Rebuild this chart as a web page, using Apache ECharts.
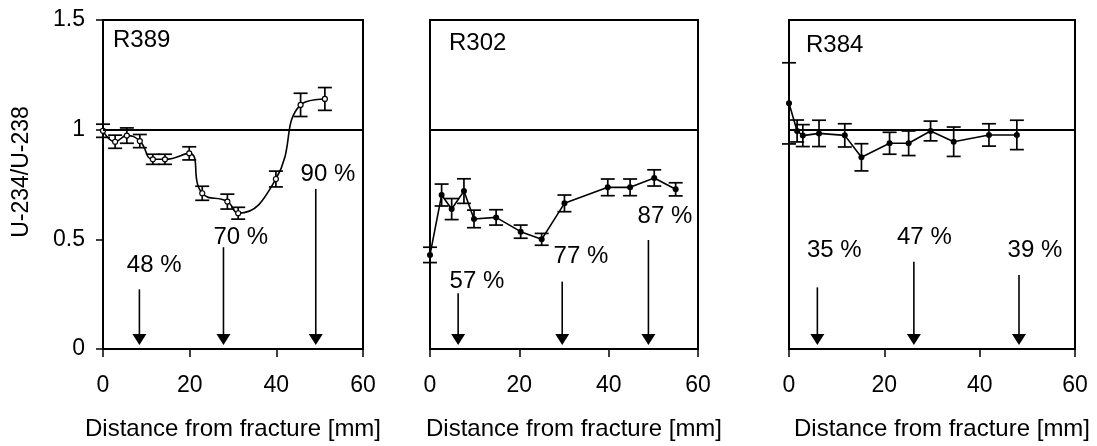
<!DOCTYPE html>
<html>
<head>
<meta charset="utf-8">
<script src="https://cdn.jsdelivr.net/npm/echarts@6/dist/echarts.min.js"></script>
<style>
  html, body { margin: 0; padding: 0; background: #fff; }
  #chart { width: 1097px; height: 446px; }
</style>
</head>
<body>
<div id="chart"></div>
<script>
// ---- Activity ratio profiles, three rock samples ----
const r389X   = [0, 2.8, 5.5, 8.5, 11.5, 14.3, 19.9, 22.9, 28.7, 31.2, 39.9, 45.6, 51.2];
const r389Y   = [0.995, 0.945, 0.973, 0.948, 0.865, 0.865, 0.892, 0.71, 0.672, 0.619, 0.775, 1.113, 1.14];
const r389Err = [0.03, 0.03, 0.035, 0.03, 0.023, 0.023, 0.03, 0.032, 0.034, 0.027, 0.036, 0.053, 0.052];

const r302X   = [0, 2.6, 4.85, 7.6, 9.85, 14.8, 20.3, 25.0, 30.1, 39.8, 44.8, 50.2, 55.0];
const r302Y   = [0.429, 0.702, 0.638, 0.72, 0.593, 0.6, 0.535, 0.5, 0.664, 0.737, 0.737, 0.78, 0.728];
const r302Err = [0.035, 0.05, 0.048, 0.056, 0.04, 0.035, 0.03, 0.027, 0.038, 0.038, 0.038, 0.037, 0.03];

const r384X   = [0, 1.7, 2.9, 6.3, 11.7, 15.2, 21.1, 25.1, 29.7, 34.55, 41.95, 47.8];
const r384Y   = [1.12, 0.994, 0.973, 0.983, 0.974, 0.874, 0.938, 0.938, 0.994, 0.945, 0.976, 0.976];
const r384Err = [0.185, 0.05, 0.05, 0.06, 0.053, 0.062, 0.05, 0.056, 0.045, 0.067, 0.051, 0.067];

// Arrows marking positions with their percentage values
const r389ArrowX   = [8.4, 27.8, 49.1];
const r389ArrowTop = [0.272, 0.464, 0.73];
const r389LabelX   = [11.8, 31.8, 51.9];
const r389LabelY   = [0.383, 0.511, 0.798];
const r389Labels   = ['48 %', '70 %', '90 %'];

const r302ArrowX   = [6.3, 29.6, 48.9];
const r302ArrowTop = [0.254, 0.307, 0.497];
const r302LabelX   = [10.5, 33.8, 52.6];
const r302LabelY   = [0.31, 0.424, 0.606];
const r302Labels   = ['57 %', '77 %', '87 %'];

const r384ArrowX   = [5.95, 26.2, 48.25];
const r384ArrowTop = [0.281, 0.398, 0.337];
const r384LabelX   = [9.5, 28.4, 51.6];
const r384LabelY   = [0.451, 0.511, 0.451];
const r384Labels   = ['35 %', '47 %', '39 %'];

const sampleNames = ['R389', 'R302', 'R384'];
const xTicks = [0, 20, 40, 60];
const yTicks = [0, 0.5, 1, 1.5];
const equilibrium = 1;

const FONT = "'Liberation Sans', Arial, sans-serif";
const FS = 23;
const FS_BIG = 24;

const grids = [
  { left: 103, top: 20, width: 260, height: 329 },
  { left: 430, top: 20, width: 268, height: 329 },
  { left: 789, top: 20, width: 286, height: 329 }
];

function xAxisFor(gi, padLeft) {
  return {
    gridIndex: gi, type: 'value', min: xTicks[0], max: xTicks[xTicks.length - 1], interval: 20,
    axisLine: { show: true, lineStyle: { color: '#000', width: 2 } },
    axisTick: { show: true, inside: false, length: 8, lineStyle: { color: '#000', width: 1.5 } },
    axisLabel: { color: '#000', fontFamily: FONT, fontSize: FS, margin: 25 },
    splitLine: { show: false },
    name: 'Distance from fracture [mm]', nameLocation: 'middle', nameGap: 68,
    nameTextStyle: { color: '#000', fontFamily: FONT, fontSize: FS_BIG, padding: [0, 0, 0, padLeft] }
  };
}

function yAxisFor(gi, showLabels) {
  return {
    gridIndex: gi, type: 'value', min: yTicks[0], max: yTicks[yTicks.length - 1], interval: 0.5,
    axisLine: { show: true, lineStyle: { color: '#000', width: 2 } },
    axisTick: { show: showLabels, inside: false, length: 7, lineStyle: { color: '#000', width: 1.5 } },
    axisLabel: { show: showLabels, color: '#000', fontFamily: FONT, fontSize: FS, margin: 18 },
    splitLine: { show: false }
  };
}

function profileSeries(gi, xs, ys, smooth, hollow) {
  return {
    type: 'line', xAxisIndex: gi, yAxisIndex: gi,
    data: xs.map((x, i) => [x, ys[i]]),
    smooth: smooth,
    symbol: 'circle', symbolSize: hollow ? 5 : 6,
    itemStyle: { color: hollow ? '#fff' : '#000', borderColor: '#000', borderWidth: hollow ? 1.2 : 0 },
    lineStyle: { color: '#000', width: 1.6 },
    z: 4, silent: true, animation: false,
    markLine: {
      silent: true, symbol: 'none', label: { show: false },
      lineStyle: { color: '#000', width: 2, type: 'solid' },
      data: [{ yAxis: equilibrium }]
    }
  };
}

function errorSeries(gi, xs, ys, es) {
  return {
    type: 'custom', xAxisIndex: gi, yAxisIndex: gi, silent: true, z: 3, animation: false,
    data: xs.map((x, i) => [x, ys[i] - es[i], ys[i] + es[i]]),
    encode: { x: 0, y: [1, 2] },
    renderItem(params, api) {
      const x = api.value(0);
      const lo = api.coord([x, api.value(1)]);
      const hi = api.coord([x, api.value(2)]);
      const w = 7;
      const st = { stroke: '#000', lineWidth: 1.7 };
      return {
        type: 'group', children: [
          { type: 'line', shape: { x1: lo[0], y1: lo[1], x2: hi[0], y2: hi[1] }, style: st },
          { type: 'line', shape: { x1: lo[0] - w, y1: lo[1], x2: lo[0] + w, y2: lo[1] }, style: st },
          { type: 'line', shape: { x1: hi[0] - w, y1: hi[1], x2: hi[0] + w, y2: hi[1] }, style: st }
        ]
      };
    }
  };
}

function arrowSeries(gi, ax, atop, lx, ly, labels) {
  return {
    type: 'custom', xAxisIndex: gi, yAxisIndex: gi, silent: true, z: 5, animation: false,
    data: ax.map((x, i) => [x, atop[i], lx[i], ly[i]]),
    encode: { x: 0, y: 1 },
    renderItem(params, api) {
      const i = params.dataIndex;
      const top = api.coord([api.value(0), api.value(1)]);
      const base = api.coord([api.value(0), 0]);
      const lab = api.coord([api.value(2), api.value(3)]);
      const tipY = base[1] - 4, headH = 11, headW = 7;
      return {
        type: 'group', children: [
          { type: 'line', shape: { x1: top[0], y1: top[1], x2: top[0], y2: tipY - headH + 1 },
            style: { stroke: '#000', lineWidth: 1.6 } },
          { type: 'polygon', shape: { points: [[top[0] - headW, tipY - headH], [top[0] + headW, tipY - headH], [top[0], tipY]] },
            style: { fill: '#000' } },
          { type: 'text', x: lab[0], y: lab[1],
            style: { text: labels[i], fill: '#000', font: FS_BIG + 'px ' + FONT, align: 'center', verticalAlign: 'middle' } }
        ]
      };
    }
  };
}

const chart = echarts.init(document.getElementById('chart'), null, { renderer: 'canvas' });
chart.setOption({
  animation: false,
  backgroundColor: '#fff',
  grid: grids.map(g => Object.assign({ show: true, borderColor: '#000', borderWidth: 2, backgroundColor: 'transparent' }, g)),
  xAxis: [xAxisFor(0, 0), xAxisFor(1, 20), xAxisFor(2, 20)],
  yAxis: [yAxisFor(0, true), yAxisFor(1, false), yAxisFor(2, false)],
  graphic: [
    { type: 'text', x: 22, y: 172, rotation: Math.PI / 2,
      style: { text: 'U-234/U-238', fill: '#000', font: FS + 'px ' + FONT, align: 'center', verticalAlign: 'middle' } },
    { type: 'text', x: 113, y: 40,
      style: { text: sampleNames[0], fill: '#000', font: FS_BIG + 'px ' + FONT, align: 'left', verticalAlign: 'middle' } },
    { type: 'text', x: 449, y: 43,
      style: { text: sampleNames[1], fill: '#000', font: FS_BIG + 'px ' + FONT, align: 'left', verticalAlign: 'middle' } },
    { type: 'text', x: 806, y: 45,
      style: { text: sampleNames[2], fill: '#000', font: FS_BIG + 'px ' + FONT, align: 'left', verticalAlign: 'middle' } }
  ],
  series: [
    errorSeries(0, r389X, r389Y, r389Err),
    profileSeries(0, r389X, r389Y, 0.5, true),
    arrowSeries(0, r389ArrowX, r389ArrowTop, r389LabelX, r389LabelY, r389Labels),

    errorSeries(1, r302X, r302Y, r302Err),
    profileSeries(1, r302X, r302Y, false, false),
    arrowSeries(1, r302ArrowX, r302ArrowTop, r302LabelX, r302LabelY, r302Labels),

    errorSeries(2, r384X, r384Y, r384Err),
    profileSeries(2, r384X, r384Y, false, false),
    arrowSeries(2, r384ArrowX, r384ArrowTop, r384LabelX, r384LabelY, r384Labels)
  ]
});
</script>
</body>
</html>
